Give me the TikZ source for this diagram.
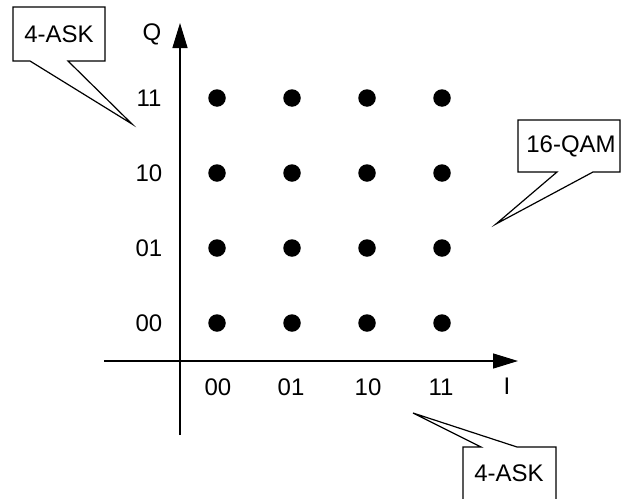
\documentclass[tikz,border=0pt]{standalone}
\usepackage{fontspec}
\setmainfont{Liberation Sans}
\usetikzlibrary{arrows.meta}
\begin{document}
\begin{tikzpicture}[x=1pt,y=-1pt,
  lbl/.style={font=\fontsize{24}{28}\selectfont, inner sep=0pt},
  pt/.style={circle, fill=black, minimum size=17.5pt, inner sep=0pt},
  axis/.style={line width=1.4pt, -{Triangle[length=25pt,width=15pt]}},
  callout/.style={line width=1.2pt, fill=white}]
\useasboundingbox (0,0) rectangle (621,498);
\clip (0,0) rectangle (621,498);
% axes
\coordinate (qs) at (180,435);
\coordinate (qe) at (180,23);
\coordinate (is) at (104,361);
\coordinate (ie) at (518,361);
\draw[axis] (qs) -- (qe);
\draw[axis] (is) -- (ie);
\node[lbl] (Q) at (152,34) {Q};
\node[lbl] (I) at (507,386) {I};
% dots
\foreach \i/\x in {0/217,1/292,2/367,3/442}{
  \foreach \j/\y in {0/323,1/248,2/173,3/98}{
    \node[pt] (p\i\j) at (\x,\y) {};
  }
}
% Q labels
\node[lbl] (q0) at (149,323) {00};
\node[lbl] (q1) at (149,248) {01};
\node[lbl] (q2) at (149,173) {10};
\node[lbl] (q3) at (149,98) {11};
% I labels
\node[lbl] (i0) at (218,387) {00};
\node[lbl] (i1) at (291,387) {01};
\node[lbl] (i2) at (368,387) {10};
\node[lbl] (i3) at (441,387) {11};
% callout top-left
\draw[callout] (13,7) -- (105,7) -- (105,61) -- (68,61) -- (132,124) -- (30,61) -- (13,61) -- cycle;
\node[lbl] (askq) at (59,34) {4-ASK};
% callout 16-QAM
\draw[callout] (518,120) -- (620,120) -- (620,172) -- (593,172) -- (496,224) -- (557,172) -- (518,172) -- cycle;
\node[lbl] (qam) at (571,146) {16-QAM};
% callout bottom
\draw[callout] (463,510) -- (463,447) -- (481,447) -- (413,413) -- (517,447) -- (556,447) -- (556,510);
\node[lbl] (aski) at (509,473) {4-ASK};
\end{tikzpicture}
\end{document}
